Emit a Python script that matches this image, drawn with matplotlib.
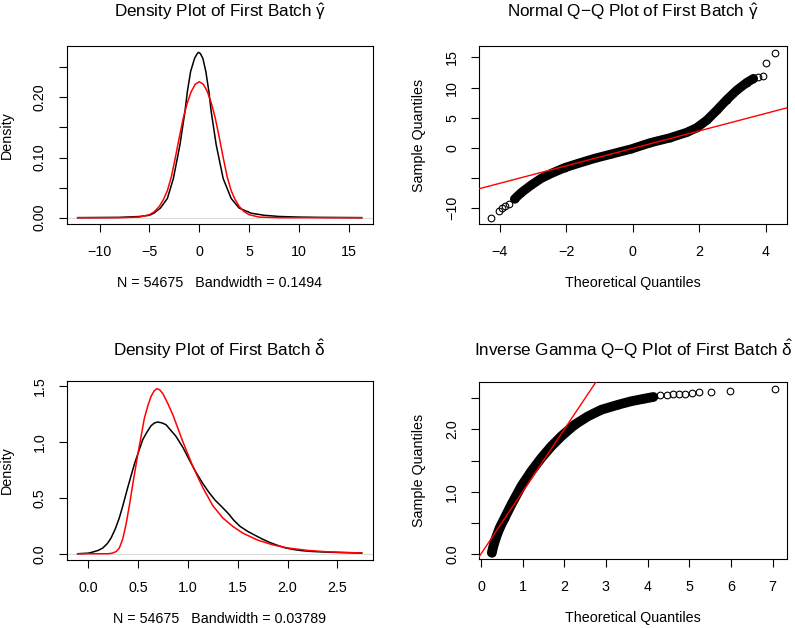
import numpy as np
import matplotlib
matplotlib.use("Agg")
import matplotlib.pyplot as plt

plt.rcParams['font.family'] = ['Liberation Sans', 'DejaVu Sans']
plt.rcParams['mathtext.fontset'] = 'custom'
plt.rcParams['mathtext.rm'] = 'Liberation Sans'
plt.rcParams['mathtext.it'] = 'Liberation Sans'
plt.rcParams['axes.linewidth'] = 0.8

# --- top left: density of gamma hat (black = kde, red = fitted normal)
g_kde_x = [-12.2, -8.0, -6.0, -5.0, -4.55, -3.9, -3.2, -2.6, -1.94, -1.44, -1.2, -0.87, -0.47,
           -0.2, -0.07, 0.1, 0.36, 0.66, 0.97, 1.2, 1.7, 2.4, 3.2, 4.0, 5.2, 6.5, 8.0, 10.0,
           12.0, 16.3]
g_kde_y = [0.0, 0.0005, 0.002, 0.004, 0.0075, 0.016, 0.032, 0.065, 0.121, 0.176, 0.209, 0.243,
           0.265, 0.273, 0.275, 0.273, 0.265, 0.243, 0.209, 0.176, 0.121, 0.065, 0.032, 0.016,
           0.0075, 0.004, 0.002, 0.001, 0.0005, 0.0]
g_fit_x = [-12.2, -8.0, -6.0, -5.0, -4.5, -4.0, -3.6, -3.2, -2.8, -2.4, -2.0, -1.6, -1.2, -0.8,
           -0.4, 0.0, 0.4, 0.8, 1.2, 1.6, 2.0, 2.4, 2.8, 3.2, 3.6, 4.0, 4.5, 5.0, 6.0, 8.0, 16.3]
g_fit_y = [0.0, 0.0, 0.001, 0.005, 0.010, 0.019, 0.030, 0.045, 0.068, 0.100, 0.134, 0.166,
           0.191, 0.210, 0.222, 0.226, 0.222, 0.210, 0.191, 0.166, 0.134, 0.100, 0.068, 0.045,
           0.030, 0.019, 0.010, 0.005, 0.001, 0.0, 0.0]

# --- top right: normal Q-Q of gamma hat
qn_x = [-4.28, -4.04, -3.94, -3.84, -3.74, -3.56, -3.36, -3.06, -2.76, -2.45, -2.05, -1.65,
        -1.15, -0.65, -0.05, 0.52, 1.12, 1.62, 1.92, 2.23, 2.53, 2.83, 3.13, 3.43, 3.63,
        3.78, 3.91, 4.01, 4.28]
qn_y = [-11.6, -10.45, -10.06, -9.73, -9.4, -8.5, -7.45, -6.2, -5.08, -4.25, -3.3, -2.6,
        -1.76, -1.05, -0.2, 0.83, 1.66, 2.55, 3.32, 4.6, 6.25, 8.0, 9.57, 10.84, 11.5,
        11.78, 11.94, 14.0, 15.8]
qn_line = (-0.09, 1.45)  # intercept, slope

# --- bottom left: density of delta hat (black = kde, red = fitted inverse gamma)
d_kde_x = [-0.107, 0.0, 0.044, 0.1, 0.145, 0.19, 0.228, 0.27, 0.311, 0.35, 0.395, 0.43, 0.462,
           0.5, 0.546, 0.59, 0.63, 0.665, 0.697, 0.74, 0.78, 0.88, 0.95, 1.014, 1.08, 1.148,
           1.21, 1.272, 1.34, 1.405, 1.46, 1.523, 1.6, 1.674, 1.75, 1.824, 1.9, 1.975, 2.06,
           2.14, 2.25, 2.38, 2.55, 2.745]
d_kde_y = [0.0, 0.005, 0.015, 0.03, 0.051, 0.09, 0.14, 0.22, 0.32, 0.44, 0.59, 0.70, 0.80,
           0.90, 1.02, 1.09, 1.145, 1.17, 1.178, 1.17, 1.154, 1.05, 0.95, 0.84, 0.73, 0.63,
           0.55, 0.48, 0.42, 0.36, 0.30, 0.245, 0.2, 0.165, 0.13, 0.1, 0.075, 0.053, 0.038,
           0.028, 0.02, 0.015, 0.01, 0.006]
d_fit_x = [-0.107, 0.2, 0.24, 0.28, 0.311, 0.345, 0.378, 0.41, 0.446, 0.496, 0.53, 0.563, 0.6,
           0.63, 0.66, 0.687, 0.715, 0.75, 0.8, 0.85, 0.95, 1.05, 1.15, 1.25, 1.35, 1.45, 1.55,
           1.7, 1.85, 2.0, 2.2, 2.4, 2.745]
d_fit_y = [0.0, 0.0, 0.005, 0.02, 0.05, 0.13, 0.26, 0.42, 0.62, 0.885, 1.05, 1.214, 1.33,
           1.408, 1.455, 1.476, 1.468, 1.43, 1.34, 1.24, 1.0, 0.78, 0.59, 0.43, 0.32, 0.245,
           0.185, 0.122, 0.08, 0.052, 0.03, 0.017, 0.007]

# --- bottom right: inverse gamma Q-Q of delta hat
qi_x = [0.26, 0.30, 0.36, 0.45, 0.569, 0.728, 0.968, 1.208, 1.449, 1.689, 1.929, 2.25, 2.57,
        2.89, 3.29, 3.6, 3.9, 4.14, 4.3, 4.46, 4.62, 4.76, 4.9, 5.06, 5.24, 5.52, 5.98, 7.06]
qi_y = [0.02, 0.13, 0.26, 0.42, 0.578, 0.79, 1.086, 1.327, 1.54, 1.728, 1.889, 2.075, 2.21,
        2.315, 2.395, 2.45, 2.49, 2.52, 2.546, 2.55, 2.56, 2.565, 2.57, 2.58, 2.6, 2.6, 2.61, 2.65]
qi_line = (0.0, 1.0)

W, H = 795, 628
fig = plt.figure(figsize=(W / 100, H / 100), dpi=100)


def make_ax(left, top, right, bottom):
    return fig.add_axes([left / W, 1 - bottom / H, (right - left) / W, (bottom - top) / H])


def style(ax, w_px, h_px, title, pad, xlabel, ylabel):
    ax.tick_params(direction='out', length=6, width=0.8, labelsize=10.3, color='black')
    ax.tick_params(axis='x', pad=9)
    ax.tick_params(axis='y', pad=8.5, labelrotation=90)
    for lbl in ax.get_yticklabels():
        lbl.set_va('center')
    ax.set_title(title, fontsize=12.3, pad=pad)
    ax.set_xlabel(xlabel, fontsize=10.3)
    ax.set_ylabel(ylabel, fontsize=10.3)
    ax.xaxis.set_label_coords(0.5, -52 / h_px)
    ax.yaxis.set_label_coords(-53 / w_px, 0.5)


qq_style = dict(ls='none', marker='o', ms=4.8, mfc='none', mec='black', mew=0.8)

# top left
ax1 = make_ax(66.7, 46, 372.7, 224.3)
ax1.axhline(0, color='#dcdcdc', lw=0.8, zorder=1)
ax1.plot(g_kde_x, g_kde_y, color='black', lw=1.1, zorder=2)
ax1.plot(g_fit_x, g_fit_y, color='red', lw=1.1, zorder=3)
ax1.set_xlim(-13.3, 17.4)
ax1.set_ylim(-0.011, 0.2855)
ax1.set_xticks([-10, -5, 0, 5, 10, 15])
ax1.set_yticks([0, 0.05, 0.10, 0.15, 0.20, 0.25])
ax1.set_yticklabels(['0.00', '', '0.10', '', '0.20', ''])
style(ax1, 306, 178.3, 'Density Plot of First Batch $\\hat{\\gamma}$', 20.7,
      'N = 54675   Bandwidth = 0.1494', 'Density')

# top right
ax2 = make_ax(479.3, 46, 786.7, 224.3)
qn_x_a, qn_y_a = np.array(qn_x), np.array(qn_y)
band = np.abs(qn_x_a) < 3.7
ax2.plot(qn_x_a[band], qn_y_a[band], color='black', lw=6.6, solid_capstyle='round', zorder=2)
ax2.plot(qn_x_a, qn_y_a, zorder=2, **qq_style)
ax2.axline((0, qn_line[0]), slope=qn_line[1], color='red', lw=1.0, zorder=3)
ax2.set_xlim(-4.62, 4.63)
ax2.set_ylim(-12.7, 16.9)
ax2.set_xticks([-4, -2, 0, 2, 4])
ax2.set_yticks([-10, -5, 0, 5, 10, 15])
ax2.set_yticklabels(['\u221210', '', '0', '5', '10', '15'])
style(ax2, 307.4, 178.3, 'Normal Q\u2212Q Plot of First Batch $\\hat{\\gamma}$', 20.7,
      'Theoretical Quantiles', 'Sample Quantiles')

# bottom left
ax3 = make_ax(66.7, 381, 372.7, 560)
ax3.axhline(0, color='#dcdcdc', lw=0.8, zorder=1)
ax3.plot(d_kde_x, d_kde_y, color='black', lw=1.1, zorder=2)
ax3.plot(d_fit_x, d_fit_y, color='red', lw=1.1, zorder=3)
ax3.set_xlim(-0.217, 2.855)
ax3.set_ylim(-0.056, 1.545)
ax3.set_xticks([0, 0.5, 1.0, 1.5, 2.0, 2.5])
ax3.set_xticklabels(['0.0', '0.5', '1.0', '1.5', '2.0', '2.5'])
ax3.set_yticks([0, 0.5, 1.0, 1.5])
ax3.set_yticklabels(['0.0', '0.5', '1.0', '1.5'])
style(ax3, 306, 179, 'Density Plot of First Batch $\\hat{\\delta}$', 18.2,
      'N = 54675   Bandwidth = 0.03789', 'Density')

# bottom right
ax4 = make_ax(479.3, 381.7, 786.7, 559.3)
qi_x_a, qi_y_a = np.array(qi_x), np.array(qi_y)
band4 = qi_x_a < 4.2
ax4.plot(qi_x_a[band4], qi_y_a[band4], color='black', lw=7.0, solid_capstyle='round', zorder=2)
ax4.plot(qi_x_a, qi_y_a, zorder=2, **qq_style)
ax4.axline((0, qi_line[0]), slope=qi_line[1], color='red', lw=1.0, zorder=3)
ax4.set_xlim(-0.04, 7.34)
ax4.set_ylim(-0.086, 2.765)
ax4.set_xticks(range(8))
ax4.set_yticks([0, 0.5, 1.0, 1.5, 2.0, 2.5])
ax4.set_yticklabels(['0.0', '', '1.0', '', '2.0', ''])
style(ax4, 307.4, 177.6, 'Inverse Gamma Q\u2212Q Plot of First Batch $\\hat{\\delta}$', 18.7,
      'Theoretical Quantiles', 'Sample Quantiles')

fig.savefig('out.png', dpi=100)
